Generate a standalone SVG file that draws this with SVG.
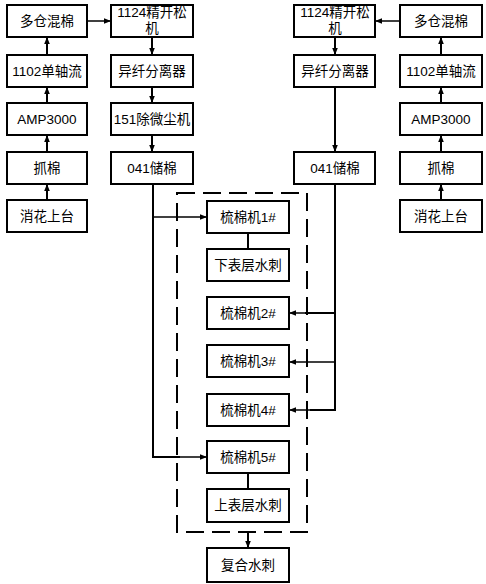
<svg xmlns="http://www.w3.org/2000/svg" width="486" height="584" viewBox="0 0 486 584">
<defs>
<marker id="ah" viewBox="0 0 10 10" refX="10" refY="5" markerWidth="7" markerHeight="7" markerUnits="userSpaceOnUse" orient="auto">
<path d="M0,1 L10,5 L0,9 Z" fill="#000"/>
</marker>
<style>
.box{fill:#fff;stroke:#000;stroke-width:2}
.t{font-family:"Liberation Sans","Noto Sans CJK SC",sans-serif;font-size:13.5px;text-anchor:middle;fill:#000}
.c{fill:none;stroke:#000;stroke-width:2}
.h{fill:none;stroke:#000;stroke-width:1.5}
.dash{fill:none;stroke:#000;stroke-width:2;stroke-dasharray:18 8}
</style>
</defs>
<rect width="486" height="584" fill="#fff"/>
<g id="connectors">
<rect class="dash" x="177" y="193" width="130" height="339"/>
<line class="h" x1="87" y1="21" x2="111" y2="21" marker-end="url(#ah)"/>
<line class="c" x1="47" y1="55" x2="47" y2="37" marker-end="url(#ah)"/>
<line class="c" x1="47" y1="103" x2="47" y2="87" marker-end="url(#ah)"/>
<line class="c" x1="47" y1="152" x2="47" y2="135" marker-end="url(#ah)"/>
<line class="c" x1="47" y1="200" x2="47" y2="184" marker-end="url(#ah)"/>
<line class="c" x1="152" y1="37" x2="152" y2="55" marker-end="url(#ah)"/>
<line class="c" x1="152" y1="87" x2="152" y2="103" marker-end="url(#ah)"/>
<line class="c" x1="152" y1="135" x2="152" y2="152" marker-end="url(#ah)"/>
<polyline class="c" points="153,184 153,457 180,457"/>
<line class="h" x1="178" y1="457" x2="207" y2="457" marker-end="url(#ah)"/>
<line class="h" x1="153" y1="217" x2="207" y2="217" marker-end="url(#ah)"/>
<line class="h" x1="400" y1="21" x2="375" y2="21" marker-end="url(#ah)"/>
<line class="c" x1="441" y1="55" x2="441" y2="37" marker-end="url(#ah)"/>
<line class="c" x1="441" y1="103" x2="441" y2="87" marker-end="url(#ah)"/>
<line class="c" x1="441" y1="152" x2="441" y2="135" marker-end="url(#ah)"/>
<line class="c" x1="441" y1="200" x2="441" y2="184" marker-end="url(#ah)"/>
<line class="c" x1="335" y1="37" x2="335" y2="55" marker-end="url(#ah)"/>
<line class="c" x1="335" y1="87" x2="335" y2="152" marker-end="url(#ah)"/>
<polyline class="c" points="335,184 335,410 310,410"/>
<line class="h" x1="312" y1="410" x2="289" y2="410" marker-end="url(#ah)"/>
<line class="c" x1="335" y1="313" x2="305" y2="313"/>
<line class="h" x1="306" y1="313" x2="289" y2="313" marker-end="url(#ah)"/>
<line class="h" x1="335" y1="362" x2="289" y2="362" marker-end="url(#ah)"/>
<line class="c" x1="248" y1="233" x2="248" y2="249"/>
<line class="c" x1="248" y1="473" x2="248" y2="489"/>
<line class="c" x1="248" y1="532" x2="248" y2="548" marker-end="url(#ah)"/>
</g>
<g id="L-duocang"><rect class="box" x="7" y="5" width="80" height="32"/><text class="t" x="47" y="26">多仓混棉</text></g>
<g id="L-1102"><rect class="box" x="7" y="55" width="80" height="32"/><text class="t" x="47" y="76">1102单轴流</text></g>
<g id="L-amp"><rect class="box" x="7" y="103" width="80" height="32"/><text class="t" x="47" y="124">AMP3000</text></g>
<g id="L-zhuamian"><rect class="box" x="7" y="152" width="80" height="32"/><text class="t" x="47" y="173">抓棉</text></g>
<g id="L-xiaohua"><rect class="box" x="7" y="200" width="80" height="32"/><text class="t" x="47" y="221">消花上台</text></g>
<g id="L-1124"><rect class="box" x="111" y="5" width="82" height="32"/><text class="t" x="152" y="17">1124精开松</text><text class="t" x="152" y="33">机</text></g>
<g id="L-yixian"><rect class="box" x="111" y="55" width="82" height="32"/><text class="t" x="152" y="76">异纤分离器</text></g>
<g id="L-151"><rect class="box" x="111" y="103" width="82" height="32"/><text class="t" x="152" y="124">151除微尘机</text></g>
<g id="L-041"><rect class="box" x="111" y="152" width="82" height="32"/><text class="t" x="152" y="173">041储棉</text></g>
<g id="R-1124"><rect class="box" x="294" y="5" width="81" height="32"/><text class="t" x="335" y="17">1124精开松</text><text class="t" x="335" y="33">机</text></g>
<g id="R-yixian"><rect class="box" x="294" y="55" width="81" height="32"/><text class="t" x="335" y="76">异纤分离器</text></g>
<g id="R-041"><rect class="box" x="294" y="152" width="81" height="32"/><text class="t" x="335" y="173">041储棉</text></g>
<g id="R-duocang"><rect class="box" x="400" y="5" width="82" height="32"/><text class="t" x="441" y="26">多仓混棉</text></g>
<g id="R-1102"><rect class="box" x="400" y="55" width="82" height="32"/><text class="t" x="441" y="76">1102单轴流</text></g>
<g id="R-amp"><rect class="box" x="400" y="103" width="82" height="32"/><text class="t" x="441" y="124">AMP3000</text></g>
<g id="R-zhuamian"><rect class="box" x="400" y="152" width="82" height="32"/><text class="t" x="441" y="173">抓棉</text></g>
<g id="R-xiaohua"><rect class="box" x="400" y="200" width="82" height="32"/><text class="t" x="441" y="221">消花上台</text></g>
<g id="card1"><rect class="box" x="207" y="201" width="82" height="32"/><text class="t" x="248" y="222">梳棉机1#</text></g>
<g id="xiabiao"><rect class="box" x="207" y="249" width="82" height="32"/><text class="t" x="248" y="270">下表层水刺</text></g>
<g id="card2"><rect class="box" x="207" y="297" width="82" height="32"/><text class="t" x="248" y="318">梳棉机2#</text></g>
<g id="card3"><rect class="box" x="207" y="345" width="82" height="32"/><text class="t" x="248" y="366">梳棉机3#</text></g>
<g id="card4"><rect class="box" x="207" y="394" width="82" height="32"/><text class="t" x="248" y="415">梳棉机4#</text></g>
<g id="card5"><rect class="box" x="207" y="441" width="82" height="32"/><text class="t" x="248" y="462">梳棉机5#</text></g>
<g id="shangbiao"><rect class="box" x="207" y="489" width="82" height="33"/><text class="t" x="248" y="510">上表层水刺</text></g>
<g id="fuhe"><rect class="box" x="207" y="548" width="82" height="34"/><text class="t" x="248" y="570">复合水刺</text></g>
</svg>
